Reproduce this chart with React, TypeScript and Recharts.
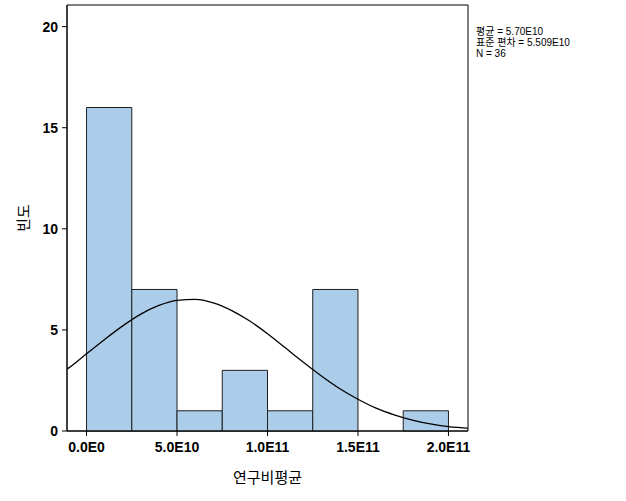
import React from 'react';
import { ComposedChart, Line, XAxis, YAxis, ReferenceArea } from 'recharts';

// histogram bins (start, end, count)
const binStarts = [0, 2.5e10, 5e10, 7.5e10, 1e11, 1.25e11, 1.5e11, 1.75e11];
const binEnds = [2.5e10, 5e10, 7.5e10, 1e11, 1.25e11, 1.5e11, 1.75e11, 2e11];
const binCounts = [16, 7, 1, 3, 1, 7, 0, 1];

// normal curve
const curveX = [-1.08e10, -1e10, 0, 1e10, 2e10, 3e10, 4e10, 5e10, 6e10, 7e10, 8e10, 9e10, 1e11, 1.1e11, 1.2e11, 1.3e11, 1.4e11, 1.5e11, 1.6e11, 1.7e11, 1.8e11, 1.9e11, 2e11, 2.1e11, 2.11e11];
const curveY = [3.06, 3.11, 3.82, 4.53, 5.2, 5.78, 6.21, 6.46, 6.51, 6.34, 5.97, 5.45, 4.81, 4.1, 3.39, 2.71, 2.09, 1.57, 1.13, 0.8, 0.54, 0.35, 0.22, 0.14, 0.13];

const xTicks = [0, 5e10, 1e11, 1.5e11, 2e11];
const xTickLabels = ['0.0E0', '5.0E10', '1.0E11', '1.5E11', '2.0E11'];
const yTicks = [0, 5, 10, 15, 20];

const statLines = ['평균 = 5.70E10', '표준 편차 = 5.509E10', 'N = 36'];

const X_MIN = -1.08e10;
const X_MAX = 2.108e11;
const Y_MAX = 21.07;

const curveData = curveX.map((x, i) => ({ x, y: curveY[i] }));

const tickStyle = { fontFamily: 'Liberation Sans, Arial, sans-serif', fontSize: 14, fontWeight: 'bold', fill: '#000' };

export default function App() {
  return (
    <div style={{ position: 'absolute', left: 0, top: 0, width: 626, height: 501, background: '#fff' }}>
      <ComposedChart width={626} height={501} data={curveData} margin={{ top: 5, right: 158, bottom: 0, left: 0 }}>
        <XAxis
          dataKey="x"
          type="number"
          domain={[X_MIN, X_MAX]}
          ticks={xTicks}
          allowDataOverflow
          tickFormatter={(v: number) => xTickLabels[xTicks.indexOf(v)] ?? ''}
          tick={tickStyle}
          tickSize={5}
          tickMargin={6}
          height={70}
          axisLine={{ stroke: '#000' }}
          tickLine={{ stroke: '#000' }}
          label={{
            value: '연구비평균',
            position: 'insideBottom',
            offset: 18,
            style: { fontFamily: 'Noto Sans CJK KR, sans-serif', fontSize: 15, fill: '#000' },
          }}
        />
        <YAxis
          type="number"
          domain={[0, Y_MAX]}
          ticks={yTicks}
          allowDataOverflow
          tick={tickStyle}
          tickSize={5}
          tickMargin={4}
          width={67}
          axisLine={{ stroke: '#000' }}
          tickLine={{ stroke: '#000' }}
          label={{
            value: '빈도',
            angle: -90,
            position: 'insideLeft',
            offset: 24,
            style: { fontFamily: 'Noto Sans CJK KR, sans-serif', fontSize: 15, fill: '#000', textAnchor: 'middle' },
          }}
        />
        {/* plot frame */}
        <ReferenceArea x1={X_MIN} x2={X_MAX} y1={0} y2={Y_MAX} fill="none" stroke="#000" strokeWidth={1} ifOverflow="visible" />
        {binCounts.map((c, i) =>
          c > 0 ? (
            <ReferenceArea
              key={`bin-${i}`}
              x1={binStarts[i]}
              x2={binEnds[i]}
              y1={0}
              y2={c}
              fill="#abcdea"
              fillOpacity={1}
              stroke="#1f1f1f"
              strokeWidth={1}
            />
          ) : null
        )}
        <Line dataKey="y" type="monotone" stroke="#000" strokeWidth={1.3} dot={false} isAnimationActive={false} />
      </ComposedChart>
      {statLines.map((s, i) => (
        <div
          key={s}
          style={{
            position: 'absolute',
            left: 476,
            top: 26 + i * 11,
            fontFamily: 'Liberation Sans, Noto Sans CJK KR, sans-serif',
            fontSize: 10,
            lineHeight: '11px',
            whiteSpace: 'nowrap',
            color: '#000',
          }}
        >
          {s}
        </div>
      ))}
    </div>
  );
}
